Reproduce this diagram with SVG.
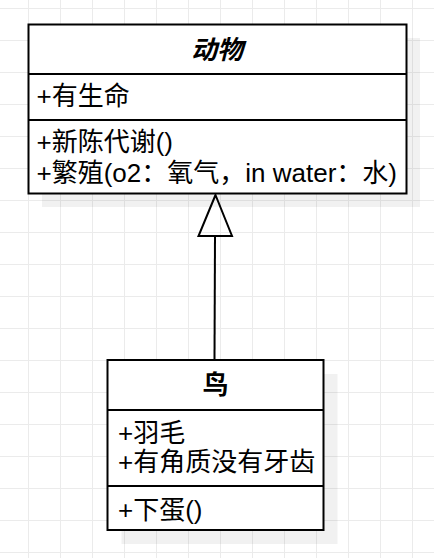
<svg xmlns="http://www.w3.org/2000/svg" width="434" height="558" viewBox="0 0 434 558">
  <style>
    .shadow { fill: #000; fill-opacity: 0.055; stroke: none; }
    .box { fill: #fff; stroke: #000; stroke-width: 2; }
    .sep { stroke: #000; stroke-width: 2; fill: none; }
    .t { font-family: "Liberation Sans", "Noto Sans CJK SC", sans-serif; font-size: 26px; fill: #000; }
    .title { font-weight: bold; text-anchor: middle; }
    .conn { stroke: #000; stroke-width: 2; fill: none; }
  </style>
  <defs>
    <pattern id="grid" x="28" y="8" width="32" height="32" patternUnits="userSpaceOnUse">
      <path d="M0.5 0V32M0 0.5H32" stroke="#ebebeb" stroke-width="1" fill="none"/>
    </pattern>
  </defs>
  <rect x="0" y="0" width="434" height="558" fill="#fff"/>
  <rect x="0" y="0" width="434" height="558" fill="url(#grid)"/>

  <g id="connectors">
    <line class="conn" x1="215" y1="236" x2="214.5" y2="360"/>
    <polygon class="conn" fill="#fff" points="215.5,195 232,236 198.5,236"/>
  </g>

  <g id="node-animal">
    <rect class="shadow" x="42" y="38" width="378" height="169"/>
    <rect class="box" x="28.5" y="24.5" width="378" height="169"/>
    <line class="sep" x1="28.5" y1="74" x2="406.5" y2="74"/>
    <line class="sep" x1="28.5" y1="120" x2="406.5" y2="120"/>
    <text class="t title" x="217" y="59" font-style="italic">动物</text>
    <text class="t" x="36.5" y="105">+有生命</text>
    <text class="t" x="36.5" y="151">+新陈代谢()</text>
    <text class="t" x="36.5" y="182">+繁殖(o2：氧气，in water：水)</text>
  </g>

  <g id="node-bird">
    <rect class="shadow" x="121.5" y="374" width="216" height="170"/>
    <rect class="box" x="107.5" y="360" width="216" height="170"/>
    <line class="sep" x1="107.5" y1="410" x2="323.5" y2="410"/>
    <line class="sep" x1="107.5" y1="486" x2="323.5" y2="486"/>
    <text class="t title" x="215.5" y="394">鸟</text>
    <text class="t" x="118" y="442">+羽毛</text>
    <text class="t" x="118" y="470.5">+有角质没有牙齿</text>
    <text class="t" x="118" y="519">+下蛋()</text>
  </g>
</svg>
